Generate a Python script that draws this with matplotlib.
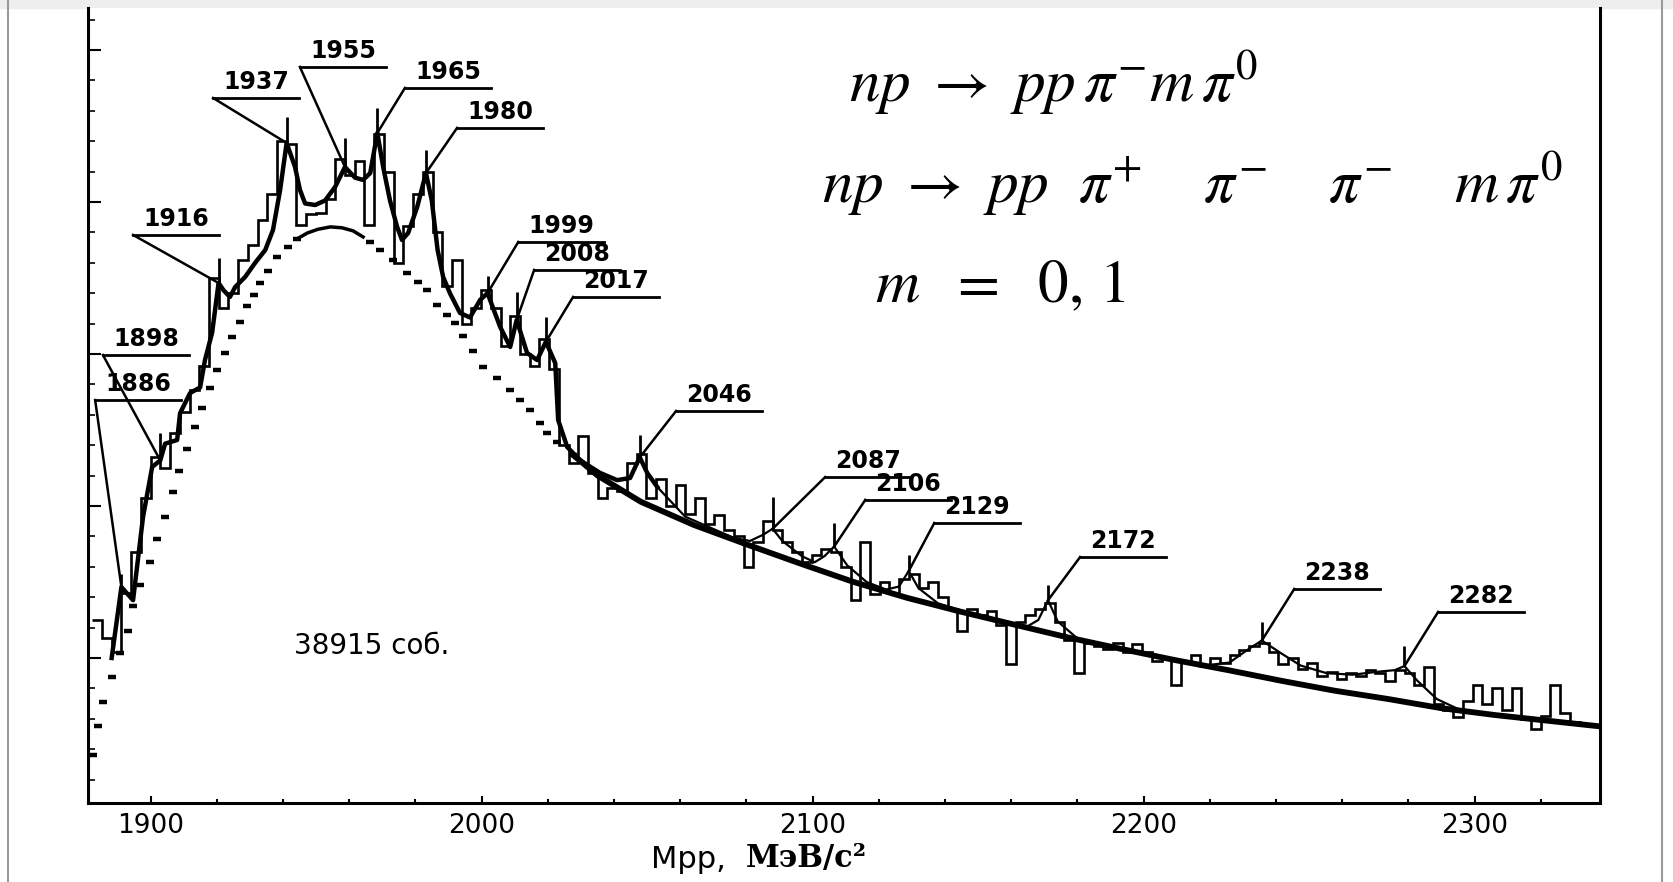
import numpy as np
import matplotlib.pyplot as plt
from matplotlib.ticker import MultipleLocator
from matplotlib.lines import Line2D
from matplotlib.patches import Rectangle

plt.rcParams['font.family'] = ['DejaVu Sans']
plt.rcParams['mathtext.fontset'] = 'stix'

# histogram: 155 bins between 1882.4 and 2337.6 MeV
bin_edges = np.linspace(1882.4, 2337.6, 156)
counts = [
    125, 113, 104, 143, 170, 205, 232, 225, 248, 262,
    276, 292, 350, 330, 340, 362, 372, 388, 405, 440,
    438, 385, 392, 393, 402, 428, 418, 427, 385, 445,
    420, 360, 384, 405, 420, 380, 345, 362, 320, 330,
    342, 330, 305, 325, 300, 292, 310, 290, 240, 228,
    246, 222, 205, 212, 210, 228, 234, 205, 218, 200,
    214, 195, 205, 188, 194, 184, 180, 160, 176, 190,
    184, 176, 170, 163, 168, 172, 170, 160, 138, 176,
    142, 150, 143, 152, 155, 146, 150, 140, 132, 118,
    132, 128, 131, 122, 96, 124, 128, 132, 136, 124,
    112, 90, 110, 108, 106, 110, 104, 109, 104, 98,
    100, 82, 98, 102, 95, 100, 97, 102, 105, 108,
    110, 104, 96, 100, 93, 97, 88, 91, 86, 90,
    88, 92, 90, 85, 92, 90, 82, 94, 70, 66,
    61, 72, 82, 70, 80, 66, 80, 60, 53, 62,
    82, 64, 58, 56, 55,
]

# fitted curve (background + resonances)
fit_x = [1888.25, 1891.19, 1894.71, 1897.74, 1900.49, 1902.93, 1904.40, 1908.03, 1908.91, 1911.94,
         1914.97, 1916.44, 1918.60, 1920.55, 1922.02, 1923.98, 1925.55, 1928.58, 1931.61, 1934.65,
         1936.99, 1939.15, 1941.11, 1943.65, 1945.12, 1946.69, 1949.72, 1952.76, 1955.79, 1958.73,
         1961.76, 1964.21, 1966.36, 1968.52, 1970.28, 1972.33, 1974.49, 1975.96, 1977.82, 1980.56,
         1983.20, 1984.96, 1986.72, 1988.39, 1990.44, 1993.48, 1996.51, 1999.55, 2001.80, 2005.62,
         2008.65, 2010.61, 2013.74, 2016.78, 2019.43, 2022.26, 2023.14, 2025.88, 2029.79, 2035.86,
         2040.95, 2044.87, 2047.80, 2050.06, 2053.09, 2061.51, 2076.19, 2081.09, 2085.00, 2087.94,
         2090.87, 2096.75, 2100.66, 2103.60, 2106.53, 2110.45, 2116.32, 2122.20, 2126.11, 2129.05,
         2131.99, 2137.86, 2149.60, 2164.29, 2168.20, 2171.14, 2174.08, 2179.95, 2198.55, 2218.12,
         2225.96, 2231.83, 2235.74, 2241.62, 2247.49, 2255.32, 2263.15, 2270.98, 2275.88, 2278.82,
         2282.73, 2288.60, 2296.43]
fit_y = [100, 146.7, 138, 193, 225.7, 230, 241, 243.4, 261, 274.3,
         278, 296, 314, 346.7, 342, 337.5, 344, 350.7, 360, 368.4,
         381.6, 408, 438.8, 423, 408, 399, 398, 401, 410, 423,
         416, 414.5, 419, 445.4, 423, 401, 383.6, 375, 379.6, 396.7,
         419, 401, 368.4, 350.7, 340, 327, 324, 335.5, 340, 317.8,
         304.6, 322.4, 300.7, 296, 308, 294, 256.6, 238.8, 230, 221.7,
         217, 218.4, 232, 221.7, 212.5, 193, 179, 177, 181, 185,
         177, 167, 163, 167, 173.3, 161, 150, 145, 147, 157.2,
         146, 136, 128, 120, 125, 138, 124, 113, 103.5, 95,
         97, 106, 111.5, 103, 95, 90, 89, 91, 92, 94.7,
         85, 73, 65]

# background: separate dashes under the peak region, solid elsewhere
dash_x = [1882.67, 1884.14, 1885.61, 1888.35, 1890.79, 1893.24, 1894.71, 1896.87, 1899.90, 1901.96,
          1904.40, 1906.75, 1908.61, 1911.06, 1913.41, 1915.56, 1918.01, 1920.07, 1922.51, 1924.67,
          1927.02, 1929.17, 1931.13, 1933.08, 1935.53, 1938.27, 1941.60, 1944.24,
          1966.36, 1969.30, 1973.31, 1977.53, 1980.85, 1983.59, 1986.53, 1989.56, 1992.01, 1994.46,
          1997.40, 2000.43, 2004.74, 2008.65, 2011.59, 2014.72, 2017.66, 2019.82, 2022.85, 2027.64]
dash_y = [36, 55, 71, 87.5, 103, 118, 134, 148, 163, 178,
          193, 209, 223, 237.5, 252, 264.5, 277.6, 289.5, 300.7, 311,
          321, 331.6, 339, 346.7, 354.6, 363.8, 370.4, 375.7,
          373.7, 368.4, 361.8, 353.3, 347.4, 342, 332, 325.7, 320.4, 312,
          302, 291.4, 284, 276, 270, 263, 254.6, 248, 242, 233.5]
arc_x = [1944.24, 1947.38, 1950.51, 1954.33, 1957.85, 1961.18, 1964.21]
arc_y = [375.7, 379.6, 382, 383.6, 383, 381, 377]
tail_x = [2027.64, 2030.19, 2035.08, 2048.10, 2064.15, 2080.11, 2096.45, 2112.41, 2128.66, 2144.71,
          2160.86, 2177.01, 2193.16, 2209.31, 2225.56, 2241.62, 2257.67, 2273.92, 2289.88, 2306.03,
          2337.9]
tail_y = [233.5, 229, 220, 202.8, 187.5, 174.7, 162, 150, 139.5, 130.5,
          122, 113.6, 106, 98.7, 92, 85, 78.5, 73, 67, 62.5, 55]

# resonance labels
peak_label = [1886, 1898, 1916, 1937, 1955, 1965, 1980, 1999, 2008, 2017,
              2046, 2087, 2106, 2129, 2172, 2238, 2282]
peak_x = [1891.19, 1902.93, 1920.55, 1941.11, 1958.73, 1968.52, 1983.20, 2001.80, 2010.61, 2019.43,
          2047.80, 2087.94, 2106.53, 2129.05, 2171.14, 2235.74, 2278.82]
peak_fit = [146.7, 230, 346.7, 438.8, 423, 445.4, 419, 340, 322.4, 308,
            232, 185, 173.3, 157.2, 138, 111.5, 94.7]
spike_top = [155, 248, 363, 456, 442, 462, 434, 351, 341, 324,
             247, 206, 189, 168, 148, 124, 108]
label_x = [1883.26, 1885.61, 1894.71, 1918.89, 1945.12, 1976.84, 1992.60, 2011.10, 2015.89, 2027.64,
           2058.77, 2103.80, 2115.93, 2136.78, 2180.83, 2245.53, 2288.99]
label_y = [269.7, 299.3, 378.3, 468.4, 488.8, 475, 448.7, 373.7, 355.3, 337.5,
           262.5, 219, 204, 188.8, 166.4, 145.4, 130.3]
underline_len = 26

fig = plt.figure(figsize=(16.74, 8.82), dpi=100)
ax = fig.add_axes([88 / 1674, 79 / 882, 1512 / 1674, 795 / 882])

fx = np.array(fit_x)
fy = np.array(fit_y)
dense = fx <= 2053.1
ax.stairs(counts, bin_edges, baseline=None, color='black', lw=1.9)
ax.plot(fx[dense], fy[dense], color='black', lw=3.2)
ax.plot(fx[fx >= 2053.0], fy[fx >= 2053.0], color='black', lw=1.6)
ax.plot(dash_x, dash_y, ls='none', marker='_', ms=6, mew=3.2, color='black')
ax.plot(arc_x, arc_y, color='black', lw=2.5)
ax.plot(tail_x, tail_y, color='black', lw=4.2, solid_capstyle='butt')
ax.vlines(peak_x, peak_fit, spike_top, color='black', lw=2)

for m, px, py, lx, ly in zip(peak_label, peak_x, peak_fit, label_x, label_y):
    ax.plot([px, lx], [py, ly], color='black', lw=1.8)
    ax.plot([lx, lx + underline_len], [ly, ly], color='black', lw=2)
    ax.text(lx + underline_len / 2, ly + 2.5, str(m), ha='center', va='bottom',
            fontsize=17, fontweight='bold')

ax.text(1943.2, 108, '38915 соб.', fontsize=20, ha='left', va='center')

ax.set_xlim(1881.1, 2337.9)
ax.set_ylim(4.6, 527.6)
ax.set_xticks([1900, 2000, 2100, 2200, 2300])
ax.xaxis.set_minor_locator(MultipleLocator(20))
ax.yaxis.set_major_locator(MultipleLocator(100))
ax.yaxis.set_minor_locator(MultipleLocator(20))
ax.set_yticklabels([])
ax.tick_params(axis='x', which='major', direction='in', length=5, width=1.5,
               labelsize=19, pad=7)
ax.tick_params(axis='x', which='minor', direction='in', length=3, width=1.5)
ax.tick_params(axis='y', which='major', direction='in', length=9, width=1.5)
ax.tick_params(axis='y', which='minor', direction='in', length=5, width=1.2)
ax.spines['top'].set_visible(False)
for s in ['left', 'bottom', 'right']:
    ax.spines[s].set_linewidth(2.2)

xl = fig.text(651 / 1674, 1 - 868 / 882, 'Mpp,  ', fontsize=22)
ax.annotate('МэВ/c²', xy=(1, 0), xycoords=xl, fontsize=22, fontweight='bold',
            family='DejaVu Serif', va='bottom')

fig.text(849 / 1674, 1 - 83 / 882, r'$np\ \rightarrow\ pp\,\pi^{-}m\,\pi^{0}$',
         fontsize=44, va='center')
fig.text(822 / 1674, 1 - 184 / 882,
         r'$np\ \rightarrow\ pp\ \ \pi^{+}\quad\ \pi^{-}\quad\ \pi^{-}\quad\ m\,\pi^{0}$',
         fontsize=44, va='center')
fig.text(875 / 1674, 1 - 286 / 882, r'$m\ \ =\ \ 0,\,1$', fontsize=44, va='center')

# scan page edges
fig.add_artist(Line2D([8 / 1674] * 2, [0, 1], transform=fig.transFigure,
                      color='#9a9a9a', lw=1.5))
fig.add_artist(Line2D([1662 / 1674] * 2, [0, 1], transform=fig.transFigure,
                      color='#9a9a9a', lw=1.5))
fig.add_artist(Rectangle((0, 1 - 8 / 882), 1, 8 / 882, transform=fig.transFigure,
                         color='#eeeeee', zorder=-1))

fig.savefig('out.png', dpi=100)
